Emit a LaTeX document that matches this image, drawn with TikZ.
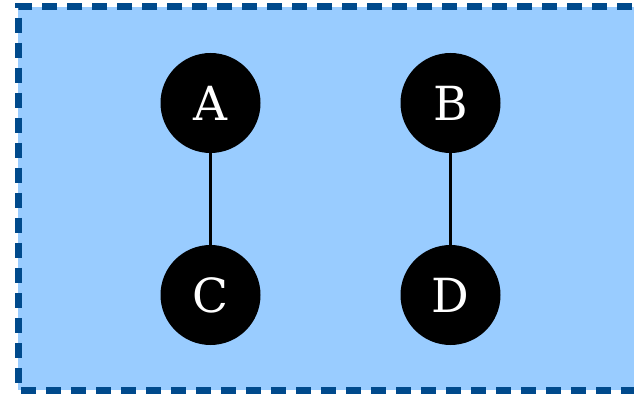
\documentclass[tikz,border=0pt]{standalone}
\usepackage{fontspec}
\setmainfont{DejaVu Serif}
\definecolor{bgblue}{HTML}{99CCFF}
\definecolor{borderblue}{HTML}{004A8C}
\begin{document}
\begin{tikzpicture}[x=1pt,y=-1pt,
  vertex/.style={circle,fill=black,draw=none,minimum size=100pt,inner sep=0pt,text=white,font=\fontsize{47}{50}\selectfont},
  link/.style={line width=3.2pt,draw=black}]
\useasboundingbox (0,0) rectangle (634,395);
\fill[bgblue] (18,7) rectangle (660,390);
\draw[borderblue,line width=7pt,dash pattern=on 15pt off 10pt,dash phase=-3pt] (660,7) -- (18,7) -- (18,390) -- (660,390);
\node[vertex] (A) at (210.5,103) {A};
\node[vertex] (B) at (450.5,103) {B};
\node[vertex] (C) at (210.5,295) {C};
\node[vertex] (D) at (450.5,295) {D};
\draw[link] (A) -- (C);
\draw[link] (B) -- (D);
\end{tikzpicture}
\end{document}
